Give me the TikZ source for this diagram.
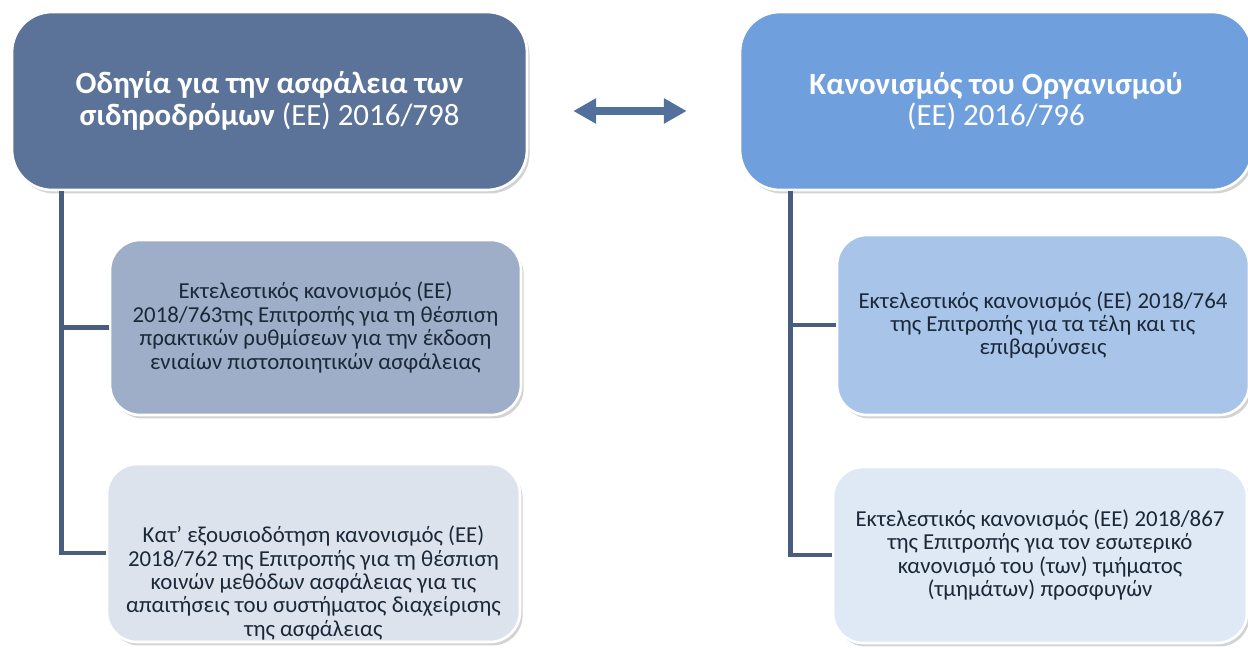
\documentclass[tikz,border=0pt]{standalone}
\usepackage{fontspec}
\setmainfont{Carlito}
\usetikzlibrary{shadows,arrows.meta}
\definecolor{lawdark}{HTML}{5B7399}
\definecolor{lawlight}{HTML}{6F9FDC}
\definecolor{actA}{HTML}{9EAEC8}
\definecolor{actB}{HTML}{DDE3EC}
\definecolor{actC}{HTML}{A8C4E9}
\definecolor{actD}{HTML}{DFE8F5}
\definecolor{linkcol}{HTML}{4A5D7E}
\definecolor{arrowcol}{HTML}{52709B}
\definecolor{textcol}{HTML}{1B2838}

\begin{document}
\begin{tikzpicture}[x=0.02cm, y=-0.02cm,
    law/.style={rectangle, draw=white, line width=1.5pt, rounded corners=0.8cm, minimum width=10.3cm, minimum height=3.56cm, text=white, font=\fontsize{17.6}{18}\selectfont, align=center, drop shadow={opacity=0.35, shadow xshift=1.5pt, shadow yshift=-2pt}},
    act/.style={rectangle, draw=white, line width=1.5pt, rounded corners=0.6cm, minimum width=8.24cm, minimum height=3.56cm, text=textcol, font=\fontsize{13}{13.3}\selectfont, align=center, drop shadow={opacity=0.35, shadow xshift=1.5pt, shadow yshift=-2pt}},
    link/.style={draw=linkcol, line width=2.8pt},
    twoway/.style={{Triangle[width=13.6pt,length=13pt]}-{Triangle[width=13.6pt,length=13pt]}, line width=4.5pt, draw=arrowcol}
]
    \useasboundingbox (0,0) rectangle (1248,648);
    \clip (0,0) rectangle (1248,648);

    % Directive (left)
    \node[law, fill=lawdark] (lawL) at (269.5,101) {\textbf{Οδηγία για την ασφάλεια των}\\\textbf{σιδηροδρόμων} (ΕΕ) 2016/798};

    % Agency regulation (right)
    \node[law, fill=lawlight, minimum width=10.24cm] (lawR) at (996,101) {\textbf{Κανονισμός του Οργανισμού}\\(ΕΕ) 2016/796};

    % Two-way arrow
    \draw[twoway, shorten <=0.9cm, shorten >=1.04cm] ([yshift=-0.2cm]lawL.east) -- ([yshift=-0.2cm]lawR.west);

    % Acts under the directive
    \node[act, fill=actA, minimum width=8.22cm, minimum height=3.5cm] (actA) at (315.5,327.5) {Εκτελεστικός κανονισμός (ΕΕ)\\2018/763της Επιτροπής για τη θέσπιση\\πρακτικών ρυθμίσεων για την έκδοση\\ενιαίων πιστοποιητικών ασφάλειας};
    \node[act, fill=actB, minimum width=8.26cm, label={[font=\fontsize{13}{13.3}\selectfont, text=textcol, align=center, yshift=-0.6cm]center:Κατ’ εξουσιοδότηση κανονισμός (ΕΕ)\\2018/762 της Επιτροπής για τη θέσπιση\\κοινών μεθόδων ασφάλειας για τις\\απαιτήσεις του συστήματος διαχείρισης\\της ασφάλειας}] (actB) at (313.5,553) {};

    % Acts under the agency regulation
    \node[act, fill=actC, minimum height=3.6cm] (actC) at (1043,325) {Εκτελεστικός κανονισμός (ΕΕ) 2018/764\\της Επιτροπής για τα τέλη και τις\\επιβαρύνσεις};
    \node[act, fill=actD, minimum width=8.28cm, minimum height=3.52cm] (actD) at (1040,555) {Εκτελεστικός κανονισμός (ΕΕ) 2018/867\\της Επιτροπής για τον εσωτερικό\\κανονισμό του (των) τμήματος\\(τμημάτων) προσφυγών};

    % Links
    \coordinate (trunkL) at ([xshift=1.02cm]lawL.south west);
    \coordinate (trunkR) at ([xshift=1.04cm]lawR.south west);
    \draw[link] (trunkL) |- (actA.west);
    \draw[link] (trunkL) |- (actB.west);
    \draw[link] (trunkR) |- (actC.west);
    \draw[link] (trunkR) |- (actD.west);
\end{tikzpicture}
\end{document}
